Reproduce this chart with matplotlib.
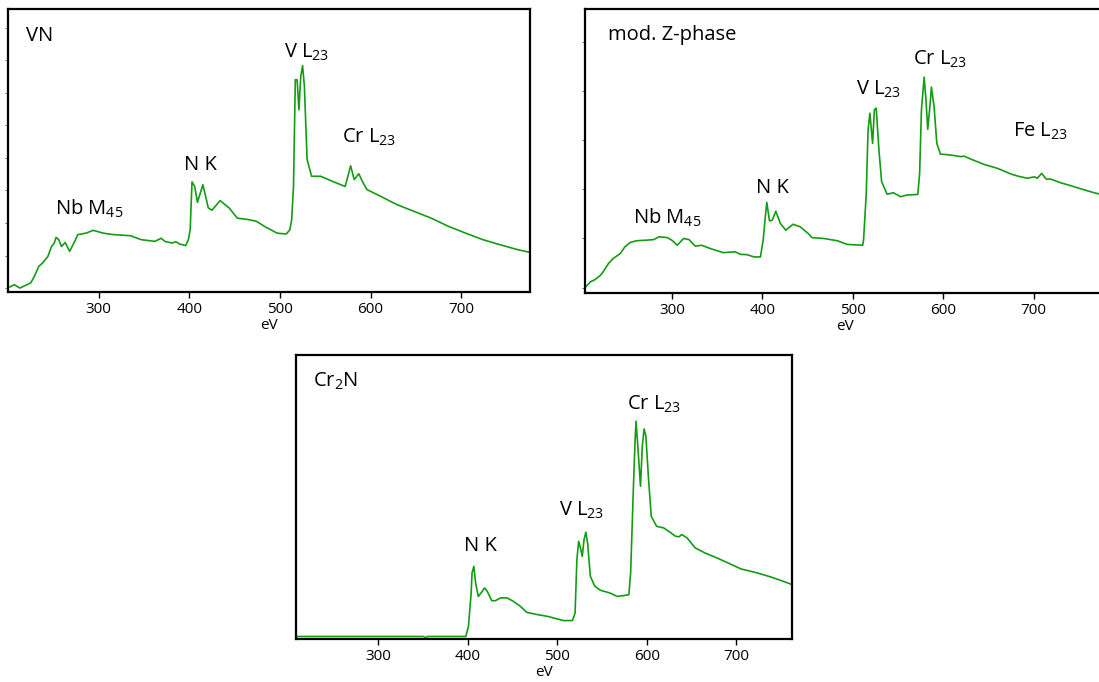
import matplotlib.pyplot as plt

plt.rcParams["font.family"] = ["Open Sans", "DejaVu Sans"]
plt.rcParams["mathtext.fontset"] = "custom"
plt.rcParams["mathtext.rm"] = "Open Sans"
plt.rcParams["mathtext.it"] = "Open Sans:italic"

# VN spectrum (energy loss in eV, intensity in % of the panel height)
vn_ev = [202, 207, 213, 225, 229, 234, 238, 244, 248, 251, 253, 256, 259, 263, 268,
         273, 277, 286, 294, 305, 316, 335, 347, 362, 369, 373, 381, 385, 389, 396,
         399, 401, 403, 406, 409, 415, 421, 425, 434, 444, 453, 465, 474, 484, 497,
         507, 511, 513, 515, 517, 519, 521, 523, 525, 527, 530, 535, 545, 558, 572,
         575, 578, 582, 587, 591, 596, 610, 629, 648, 667, 686, 705, 724, 743, 762, 776]
vn_int = [1.8, 2.6, 1.4, 3.2, 5.5, 9.1, 10.2, 12.6, 16.1, 17.3, 19.3, 18.5, 16.1, 17.5, 14.4,
          17.5, 20.3, 20.8, 21.8, 20.8, 20.3, 19.9, 18.5, 17.9, 19.0, 17.9, 17.3, 17.8, 17.0, 16.4,
          18.5, 22.0, 38.9, 37.3, 31.7, 37.9, 29.7, 28.9, 32.3, 29.7, 26.1, 25.6, 25.0, 23.0, 20.8,
          20.5, 22.0, 25.6, 37.3, 75.0, 75.0, 64.4, 76.2, 80.0, 72.7, 46.8, 40.9, 40.9, 39.1, 37.3,
          40.9, 44.6, 39.7, 41.8, 39.1, 36.2, 34.0, 30.9, 28.5, 26.1, 23.2, 20.8, 18.5, 16.7, 15.0, 14.0]

# modified Z-phase spectrum
zp_ev = [204, 210, 215, 221, 224, 230, 235, 243, 248, 254, 261, 272, 280, 286, 295,
         300, 306, 313, 319, 326, 333, 343, 357, 370, 376, 383, 391, 398, 401, 403,
         405, 408, 411, 415, 420, 426, 434, 442, 451, 455, 468, 483, 494, 511, 512,
         515, 517, 519, 522, 524, 526, 529, 532, 538, 545, 553, 560, 572, 574, 576,
         579, 581, 583, 586, 587, 590, 593, 597, 608, 620, 623, 631, 645, 660, 675,
         682, 693, 701, 704, 709, 714, 719, 730, 741, 753, 767, 780]
zp_int = [1.9, 3.9, 4.7, 6.2, 7.4, 10.4, 12.1, 13.9, 16.2, 17.8, 18.4, 18.6, 18.8, 19.8, 19.5,
          18.6, 16.8, 19.2, 18.8, 16.5, 16.8, 15.6, 14.2, 14.5, 13.6, 13.5, 12.7, 12.7, 18.6, 25.6,
          31.9, 25.4, 25.6, 28.8, 24.5, 22.1, 24.2, 23.3, 20.9, 19.5, 19.2, 18.4, 17.1, 16.8, 18.6,
          35.1, 57.4, 63.3, 52.7, 64.5, 65.1, 50.4, 39.2, 34.8, 35.3, 33.9, 34.5, 34.7, 42.1, 64.5,
          76.0, 68.0, 57.6, 68.0, 72.5, 65.6, 52.7, 48.9, 48.6, 48.0, 48.2, 47.1, 45.3, 43.9, 41.9,
          41.2, 40.4, 40.9, 40.4, 42.1, 40.1, 40.1, 38.8, 37.8, 36.6, 35.3, 34.3]

# Cr2N spectrum
cr_ev = [208, 351, 353, 355, 398, 401, 404, 405, 407, 409, 412, 415, 419, 422, 427,
         431, 437, 444, 451, 459, 466, 478, 489, 500, 507, 517, 520, 522, 524, 526,
         528, 530, 532, 534, 537, 542, 548, 559, 567, 574, 580, 582, 585, 587, 588,
         590, 593, 595, 597, 599, 602, 605, 611, 619, 626, 632, 636, 639, 645, 654,
         665, 678, 692, 705, 723, 738, 749, 762]
cr_int = [0.9, 0.9, 0.35, 0.9, 0.9, 4.5, 16.2, 23.3, 25.6, 19.7, 15.0, 16.2, 18.0, 16.8, 13.5,
          13.5, 14.5, 14.5, 13.3, 11.5, 9.4, 8.6, 8.0, 7.1, 6.5, 6.5, 9.2, 28.0, 34.4, 32.1,
          29.1, 35.0, 37.6, 33.8, 22.1, 18.6, 17.2, 16.2, 15.0, 15.3, 15.6, 23.3, 52.6, 70.3, 76.7,
          67.9, 53.8, 67.9, 74.0, 71.4, 56.2, 43.2, 39.7, 39.1, 37.6, 36.2, 36.0, 36.8, 35.6, 32.1,
          30.3, 28.6, 26.6, 24.7, 23.3, 21.9, 20.7, 19.2]

vn_labels = [("VN", 220, 90.6), ("Nb M$\\mathregular{_{45}}$", 252, 29.3),
             ("N K", 394, 44.8), ("V L$\\mathregular{_{23}}$", 505, 84.7),
             ("Cr L$\\mathregular{_{23}}$", 568, 54.8)]
zp_labels = [("mod. Z-phase", 229, 90.9), ("Nb M$\\mathregular{_{45}}$", 257, 26.6),
             ("N K", 393, 37.1), ("V L$\\mathregular{_{23}}$", 504, 71.8),
             ("Cr L$\\mathregular{_{23}}$", 567, 82.4), ("Fe L$\\mathregular{_{23}}$", 677, 56.8)]
cr_labels = [("Cr$\\mathregular{_2}$N", 228, 90.8), ("N K", 396, 32.7),
             ("V L$\\mathregular{_{23}}$", 502, 45.4), ("Cr L$\\mathregular{_{23}}$", 578, 82.8)]

panels = [
    ([0.0073, 0.5718, 0.4750, 0.4150], vn_ev, vn_int, vn_labels, (200, 776),
     [1.4 + 11.5 * k for k in range(9)]),
    ([0.5323, 0.5704, 0.4740, 0.4164], zp_ev, zp_int, zp_labels, (204, 780),
     [1.9 + 17.3 * k for k in range(6)]),
    ([0.2693, 0.0630, 0.4513, 0.4164], cr_ev, cr_int, cr_labels, (208.5, 762),
     []),
]

fig = plt.figure(figsize=(10.99, 6.82), dpi=100)

for rect, ev, inten, labels, xlim, yt in panels:
    ax = fig.add_axes(rect)
    ax.plot(ev, inten, color="#139c13", lw=1.2)
    for txt, x, y in labels:
        ax.text(x, y, txt, fontsize=14.5, ha="left", va="center")
    ax.set_xlim(*xlim)
    ax.set_ylim(0, 100)
    ax.set_xticks([300, 400, 500, 600, 700])
    ax.set_yticks(yt)
    ax.set_yticklabels([])
    ax.tick_params(axis="y", length=2.5, width=0.6, color="#555555")
    ax.tick_params(axis="x", length=4, width=1, labelsize=11, pad=3)
    ax.set_xlabel("eV", fontsize=11, labelpad=1)
    for s in ax.spines.values():
        s.set_linewidth(1.6)

fig.savefig("out.png", dpi=100)
